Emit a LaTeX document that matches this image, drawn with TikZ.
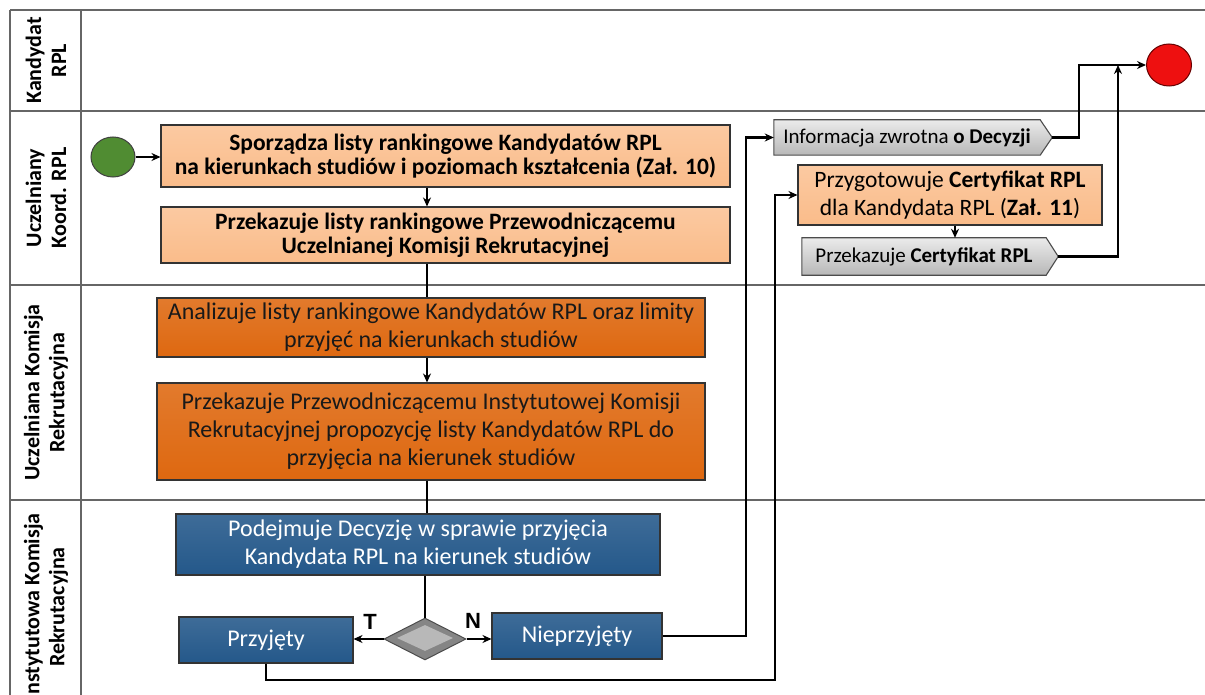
\documentclass[tikz,border=0pt]{standalone}
\usepackage{fontspec}
\setmainfont{Carlito}
\newfontfamily\flagfont{Liberation Sans}
\usetikzlibrary{shapes.geometric,arrows.meta,backgrounds}

\definecolor{peach}{RGB}{250,188,138}
\definecolor{burnt}{RGB}{222,104,16}
\definecolor{navy}{RGB}{36,88,138}
\definecolor{startgreen}{RGB}{80,140,50}
\definecolor{endred}{RGB}{238,16,16}

\begin{document}
\begin{tikzpicture}[x=1pt,y=-1pt,
  laneline/.style={draw=black!60, line width=1.4pt},
  lanelabel/.style={rotate=90, align=center, inner sep=0pt,
    font=\fontsize{22}{25}\selectfont\bfseries},
  taskbox/.style={rectangle, draw=black!80, line width=1.1pt, align=center, inner sep=2pt},
  peachbox/.style={taskbox, top color=peach!80!white, bottom color=peach},
  burntbox/.style={taskbox, top color=burnt!88!white, bottom color=burnt, text=black!90},
  navybox/.style={taskbox, top color=navy!88!white, bottom color=navy, text=white},
  sigtext/.style={rectangle, inner sep=0pt, align=center, font=\fontsize{21}{24}\selectfont},
  sigshape/.style={draw=black!70, line width=1.1pt, top color=black!8, bottom color=black!28},
  boldtext/.style={font=\fontsize{23.5}{24}\selectfont\bfseries},
  plaintext/.style={font=\fontsize{24}{28}\selectfont},
  event/.style={ellipse, draw=black!75, line width=1pt, inner sep=0pt},
  flag/.style={font=\flagfont\bfseries\fontsize{22}{22}\selectfont, inner sep=0pt},
  conn/.style={draw=black, line width=2.5pt},
  arr/.style={conn, -{Stealth[length=9pt,width=8pt]}}
]
\useasboundingbox (0,0) rectangle (1205,695);
\clip (0,0) rectangle (1205,695);

% swimlane frame
\draw[laneline] (10,10) -- (1205,10);
\draw[laneline] (10,111) -- (1205,111);
\draw[laneline] (10,285) -- (1205,285);
\draw[laneline] (10,500) -- (1205,500);
\draw[laneline] (10,10) -- (10,700);
\draw[laneline] (81,10) -- (81,700);

% lane titles (the last lane runs on past the lower edge)
\node[lanelabel] (lane1) at (46,60.5) {Kandydat\\RPL};
\node[lanelabel] (lane2) at (46,198) {Uczelniany\\Koord. RPL};
\node[lanelabel] (lane3) at (46,392.5) {Uczelniana Komisja\\Rekrutacyjna};
\node[lanelabel] (lane4) at (46,607) {Instytutowa Komisja\\Rekrutacyjna};

% start and end events
\node[event, fill=startgreen, minimum width=44pt, minimum height=40pt] (start) at (113,157) {};
\node[event, fill=endred, draw=red!40!black, minimum width=45pt, minimum height=42pt] (stop) at (1169,65) {};

% coordinator tasks
\node[peachbox, boldtext, minimum width=569pt, minimum height=62pt] (b1) at (445.5,156)
  {Sporządza listy rankingowe Kandydatów RPL\\na kierunkach studiów i poziomach kształcenia (Zał. 10)};
\node[peachbox, boldtext, minimum width=569pt, minimum height=56pt] (b2) at (445.5,235)
  {Przekazuje listy rankingowe Przewodniczącemu\\Uczelnianej Komisji Rekrutacyjnej};

% university committee tasks
\node[burntbox, plaintext, minimum width=548pt, minimum height=59pt] (b3) at (431,327.5)
  {Analizuje listy rankingowe Kandydatów RPL oraz limity\\przyjęć na kierunkach studiów};
\node[burntbox, plaintext, minimum width=548pt, minimum height=97pt] (b4) at (431,431.5)
  {Przekazuje Przewodniczącemu Instytutowej Komisji\\Rekrutacyjnej propozycję listy Kandydatów RPL do\\przyjęcia na kierunek studiów};

% institute committee tasks
\node[navybox, plaintext, minimum width=484pt, minimum height=61pt] (b5) at (418,544.5)
  {Podejmuje Decyzję w sprawie przyjęcia\\Kandydata RPL na kierunek studiów};
\node[diamond, draw=black!70, line width=1pt, fill=black!48, minimum width=82pt, minimum height=42pt, inner sep=0pt] (gate) at (425,639) {};
\node[diamond, fill=black!28, minimum width=56pt, minimum height=26pt, inner sep=0pt] (gatefacet) at (425,638) {};
\node[navybox, plaintext, minimum width=174pt, minimum height=46pt] (yes) at (266,640) {Przyjęty};
\node[navybox, plaintext, minimum width=170pt, minimum height=46pt] (no) at (577,636) {Nieprzyjęty};
\node[flag] (flagT) at (370,622) {T};
\node[flag] (flagN) at (473,621) {N};

% right-hand column
\node[sigtext, minimum width=266pt, minimum height=35pt] (info) at (907,137.5)
  {Informacja zwrotna \textbf{o Decyzji}};
\coordinate (infotip) at ([xshift=12pt]info.east);
\node[peachbox, font=\fontsize{23.5}{28}\selectfont, minimum width=304pt, minimum height=60pt] (cert) at (950,195)
  {Przygotowuje \textbf{Certyfikat RPL}\\dla Kandydata RPL (\textbf{Zał. 11})};
\node[sigtext, minimum width=244pt, minimum height=37pt] (send) at (924,256.5)
  {Przekazuje \textbf{Certyfikat RPL}};
\coordinate (sendtip) at ([xshift=12pt]send.east);

\begin{scope}[on background layer]
  \path[sigshape] (info.north west) -- (info.north east) -- (infotip) -- (info.south east) -- (info.south west) -- cycle;
  \path[sigshape] (send.north west) -- (send.north east) -- (sendtip) -- (send.south east) -- (send.south west) -- cycle;
\end{scope}

% routing columns
\coordinate (spine) at (427,0);
\coordinate (busNo) at (746,0);
\coordinate (busYes) at (775,680);
\coordinate (busInfo) at (1079,0);
\coordinate (busSend) at (1118,0);
\coordinate (certdrop) at (955,0);

% connectors
\draw[arr] (start.east) -- (start.east -| b1.west);
\draw[arr] (b1.south -| spine) -- (b2.north -| spine);
\draw[conn] (b2.south -| spine) -- (b3.north -| spine);
\draw[arr] (b3.south -| spine) -- (b4.north -| spine);
\draw[conn] (b4.south -| spine) -- (b5.north -| spine);
\draw[conn] (gate.north |- b5.south) -- (gate.north);
\draw[arr] (gate.west) -- (gate.west -| yes.east);
\draw[arr] (gate.east) -- (gate.east -| no.west);
\draw[arr] (no.east) -- (no.east -| busNo) -- (info.west -| busNo) -- (info.west);
\draw[arr] (yes.south) -- (yes.south |- busYes) -- (busYes) -- (busYes |- cert.west) -- (cert.west);
\draw[arr] (infotip) -- (infotip -| busInfo) -- (busInfo |- stop.west) -- (stop.west);
\draw[arr] (cert.south -| certdrop) -- (send.north -| certdrop);
\draw[arr] (sendtip) -- (sendtip -| busSend) -- (busSend |- stop.west);
\end{tikzpicture}
\end{document}
